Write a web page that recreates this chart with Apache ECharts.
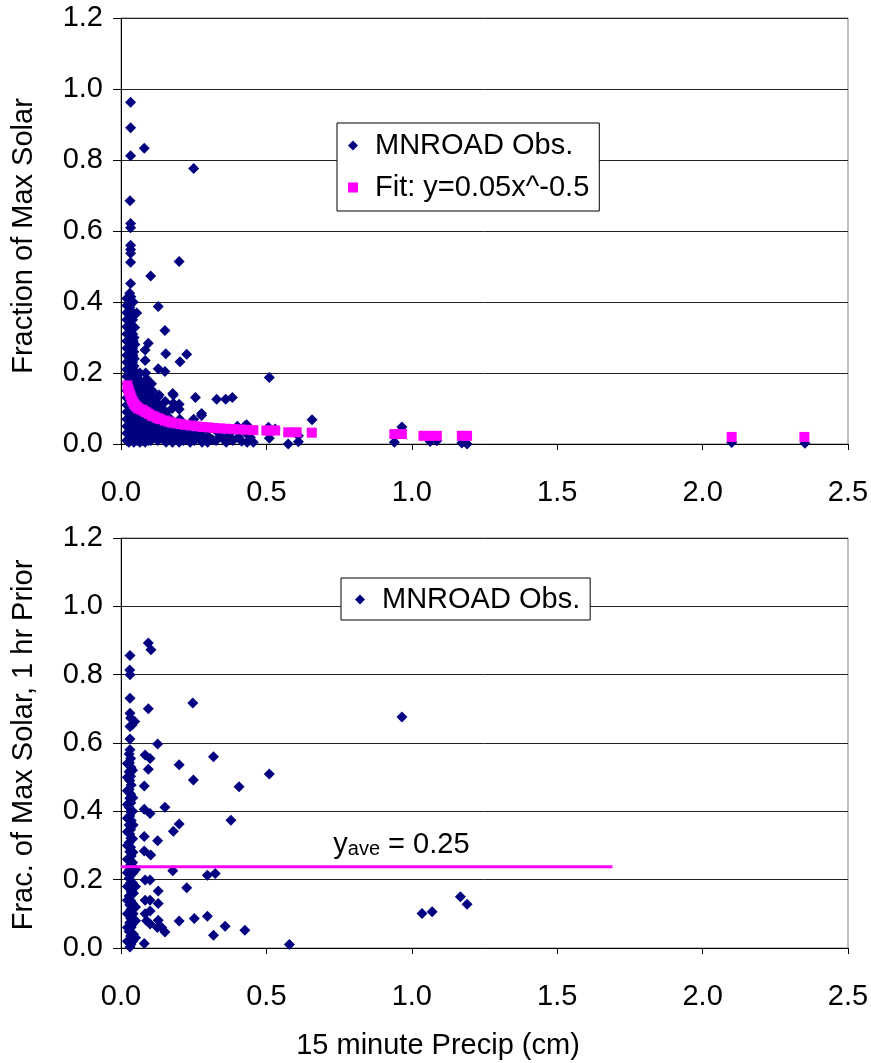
<!DOCTYPE html>
<html>
<head>
<meta charset="utf-8">
<script src="https://cdn.jsdelivr.net/npm/echarts@6/dist/echarts.min.js"></script>
<style>
html,body{margin:0;padding:0;background:#fff;}
#c{width:871px;height:1063px;}
</style>
</head>
<body>
<div id="c"></div>
<script>
// ---------- DATA ----------
const xTicks = [0, 0.5, 1.0, 1.5, 2.0, 2.5];
const yTicks = [0, 0.2, 0.4, 0.6, 0.8, 1.0, 1.2];
const legendTop = ['MNROAD Obs.', 'Fit: y=0.05x^-0.5'];
const legendBottom = ['MNROAD Obs.'];
const xTitle = '15 minute Precip (cm)';
const yTitleTop = 'Fraction of Max Solar';
const yTitleBottom = 'Frac. of Max Solar, 1 hr Prior';
const aveLabel = ['y', 'ave', ' = 0.25'];

// Top panel: observations [precip cm, fraction]
const obsTop = [
 [0.033,0.963],[0.033,0.891],[0.033,0.812],[0.031,0.685],[0.033,0.621],[0.033,0.609],[0.033,0.560],[0.033,0.548],[0.033,0.537],[0.033,0.512],[0.033,0.452],
 [0.030,0.425],[0.034,0.415],[0.029,0.405],[0.033,0.395],[0.030,0.385],[0.035,0.375],[0.028,0.365],[0.033,0.355],[0.030,0.345],[0.035,0.335],[0.028,0.325],
 [0.033,0.315],[0.030,0.305],[0.036,0.295],[0.027,0.285],[0.033,0.275],[0.030,0.265],[0.036,0.255],[0.027,0.245],[0.033,0.235],[0.030,0.225],[0.036,0.215],
 [0.027,0.205],[0.033,0.195],[0.030,0.185],[0.036,0.175],[0.027,0.165],[0.033,0.155],[0.030,0.145],[0.036,0.135],[0.027,0.125],[0.033,0.115],[0.030,0.105],
 [0.036,0.095],[0.027,0.085],[0.033,0.075],[0.030,0.065],[0.036,0.055],[0.027,0.045],[0.033,0.035],[0.030,0.025],[0.036,0.015],[0.027,0.005],
 [0.020,0.410],[0.020,0.390],[0.020,0.370],[0.020,0.350],[0.020,0.330],[0.020,0.310],[0.020,0.290],[0.020,0.270],[0.020,0.250],[0.020,0.230],[0.020,0.210],
 [0.020,0.190],[0.020,0.170],[0.020,0.150],[0.020,0.130],[0.020,0.110],[0.020,0.090],[0.020,0.070],[0.020,0.050],[0.020,0.030],[0.020,0.010],
 [0.042,0.400],[0.040,0.350],[0.041,0.330],[0.040,0.310],[0.042,0.290],[0.040,0.270],[0.041,0.250],[0.040,0.230],[0.042,0.210],
 [0.054,0.369],[0.047,0.328],[0.045,0.300],[0.048,0.280],[0.044,0.260],[0.046,0.240],[0.045,0.220],[0.048,0.200],[0.044,0.185],[0.047,0.170],[0.045,0.155],
 [0.048,0.140],[0.044,0.125],[0.047,0.110],[0.045,0.095],[0.048,0.080],[0.044,0.065],[0.047,0.050],[0.045,0.035],[0.048,0.020],[0.044,0.005],
 [0.055,0.190],[0.055,0.170],[0.055,0.150],[0.055,0.130],[0.055,0.110],[0.055,0.090],[0.055,0.070],[0.055,0.050],[0.055,0.030],[0.055,0.010],
 [0.065,0.200],[0.062,0.180],[0.066,0.160],[0.063,0.140],[0.066,0.120],[0.062,0.100],[0.065,0.080],[0.063,0.060],[0.066,0.040],[0.062,0.020],[0.065,0.005],
 [0.075,0.170],[0.075,0.150],[0.075,0.130],[0.075,0.110],[0.075,0.090],[0.075,0.070],[0.075,0.050],[0.075,0.030],[0.075,0.010],
 [0.080,0.833],[0.094,0.284],[0.083,0.265],[0.083,0.235],[0.085,0.200],[0.088,0.184],[0.083,0.160],[0.087,0.140],[0.084,0.120],[0.088,0.100],[0.083,0.080],
 [0.087,0.060],[0.084,0.040],[0.088,0.020],[0.083,0.005],
 [0.095,0.150],[0.095,0.130],[0.095,0.110],[0.095,0.090],[0.095,0.070],[0.095,0.050],[0.095,0.030],[0.095,0.010],
 [0.102,0.473],[0.105,0.170],[0.108,0.150],[0.104,0.130],[0.107,0.110],[0.103,0.090],[0.108,0.070],[0.104,0.050],[0.107,0.030],[0.103,0.010],
 [0.117,0.120],[0.117,0.100],[0.117,0.080],[0.117,0.060],[0.117,0.040],[0.117,0.020],
 [0.128,0.387],[0.128,0.212],[0.131,0.138],[0.128,0.133],[0.132,0.110],[0.127,0.090],[0.131,0.070],[0.128,0.050],[0.132,0.030],[0.127,0.010],
 [0.140,0.100],[0.140,0.080],[0.140,0.060],[0.140,0.040],[0.140,0.020],
 [0.151,0.320],[0.154,0.254],[0.151,0.204],[0.152,0.120],[0.155,0.090],[0.150,0.060],[0.154,0.040],[0.151,0.020],[0.155,0.005],
 [0.165,0.075],[0.165,0.055],[0.165,0.035],[0.165,0.015],
 [0.178,0.142],[0.180,0.138],[0.180,0.115],[0.176,0.100],[0.182,0.060],[0.178,0.040],[0.181,0.020],[0.177,0.005],
 [0.190,0.055],[0.190,0.035],[0.190,0.015],
 [0.200,0.514],[0.203,0.232],[0.200,0.112],[0.200,0.098],[0.202,0.070],[0.198,0.045],[0.203,0.020],[0.200,0.005],
 [0.215,0.030],[0.215,0.010],
 [0.226,0.253],[0.228,0.040],[0.224,0.015],[0.240,0.025],[0.238,0.005],
 [0.250,0.776],[0.250,0.070],[0.248,0.035],[0.252,0.010],[0.256,0.131],[0.262,0.020],
 [0.277,0.086],[0.277,0.080],[0.275,0.030],[0.279,0.005],[0.290,0.015],
 [0.300,0.040],[0.302,0.020],[0.298,0.005],[0.315,0.012],
 [0.329,0.126],[0.330,0.035],[0.327,0.010],[0.345,0.020],
 [0.360,0.126],[0.358,0.040],[0.362,0.005],[0.370,0.022],
 [0.383,0.131],[0.381,0.035],[0.385,0.010],
 [0.400,0.050],[0.404,0.020],[0.415,0.008],
 [0.426,0.051],[0.432,0.054],[0.430,0.030],[0.434,0.005],[0.445,0.018],[0.455,0.005],
 [0.510,0.187],[0.507,0.047],[0.510,0.016],[0.530,0.042],
 [0.575,0.000],[0.610,0.006],[0.610,0.023],[0.657,0.068],
 [0.940,0.005],[0.966,0.048],[1.063,0.007],[1.086,0.009],[1.172,0.003],[1.190,0.000],
 [2.100,0.004],[2.352,0.002]
];

// Top panel: fitted values [precip cm, fraction]
const fitTop = [
 [0.022,0.165],[0.025,0.155],[0.028,0.147],[0.032,0.138],[0.036,0.128],[0.040,0.120],[0.045,0.113],[0.050,0.108],[0.055,0.104],[0.060,0.100],
 [0.070,0.097],[0.077,0.094],[0.085,0.090],[0.095,0.085],[0.105,0.080],[0.115,0.077],[0.125,0.073],[0.135,0.070],[0.150,0.066],[0.163,0.063],
 [0.175,0.060],[0.190,0.058],[0.205,0.056],[0.220,0.054],[0.240,0.052],[0.260,0.050],[0.280,0.048],[0.300,0.047],[0.320,0.045],[0.340,0.044],
 [0.360,0.043],[0.386,0.042],[0.410,0.041],[0.432,0.040],[0.455,0.039],[0.500,0.038],[0.512,0.038],[0.530,0.038],[0.575,0.033],[0.604,0.033],
 [0.656,0.032],[0.940,0.028],[0.966,0.028],[1.040,0.023],[1.063,0.023],[1.086,0.023],[1.172,0.023],[1.190,0.023],[2.100,0.020],[2.350,0.020]
];

// Bottom panel: observations [precip cm, fraction 1 hr prior]
const obsBottom = [
 [0.094,0.893],[0.103,0.873],[0.031,0.856],[0.030,0.814],[0.031,0.800],[0.031,0.731],[0.247,0.717],[0.094,0.700],
 [0.031,0.687],[0.033,0.673],[0.047,0.663],[0.031,0.648],[0.038,0.653],[0.031,0.612],[0.126,0.597],[0.031,0.580],
 [0.083,0.565],[0.100,0.555],[0.318,0.560],[0.200,0.536],[0.094,0.523],[0.510,0.509],[0.249,0.492],[0.080,0.474],[0.406,0.472],
 [0.151,0.412],[0.080,0.406],[0.100,0.394],[0.378,0.374],[0.200,0.363],[0.180,0.342],[0.080,0.326],[0.126,0.314],[0.080,0.284],[0.102,0.272],
 [0.178,0.226],[0.297,0.213],[0.324,0.218],[0.083,0.199],[0.100,0.199],[0.226,0.176],[0.128,0.167],[0.083,0.140],[0.100,0.140],[0.128,0.130],
 [0.100,0.108],[0.083,0.100],[0.128,0.081],[0.200,0.079],[0.252,0.086],[0.297,0.093],[0.151,0.047],[0.140,0.060],[0.125,0.060],[0.088,0.080],[0.100,0.070],
 [0.358,0.064],[0.318,0.037],[0.426,0.052],[0.080,0.013],[0.579,0.010],
 [0.966,0.676],[1.035,0.101],[1.070,0.106],[1.167,0.150],[1.190,0.128],
 [0.028,0.568],[0.033,0.555],[0.029,0.542],[0.034,0.529],[0.028,0.516],[0.033,0.503],[0.030,0.490],[0.035,0.477],[0.028,0.464],[0.033,0.451],
 [0.030,0.438],[0.034,0.425],[0.028,0.412],[0.033,0.399],[0.030,0.386],[0.035,0.373],[0.028,0.360],[0.033,0.347],[0.030,0.334],[0.034,0.321],
 [0.028,0.308],[0.033,0.295],[0.030,0.282],[0.035,0.269],[0.028,0.256],[0.033,0.243],[0.030,0.230],[0.034,0.217],[0.028,0.204],[0.033,0.191],
 [0.030,0.178],[0.035,0.165],[0.028,0.152],[0.033,0.139],[0.030,0.126],[0.034,0.113],[0.028,0.100],[0.033,0.087],[0.030,0.074],[0.035,0.061],
 [0.028,0.048],[0.033,0.035],[0.030,0.022],[0.034,0.010],[0.031,0.003],
 [0.022,0.540],[0.022,0.500],[0.022,0.460],[0.022,0.420],[0.022,0.380],[0.022,0.340],[0.022,0.300],[0.022,0.260],[0.022,0.220],[0.022,0.180],
 [0.022,0.140],[0.022,0.100],[0.022,0.060],[0.022,0.020],
 [0.040,0.520],[0.041,0.440],[0.040,0.400],[0.042,0.360],[0.040,0.320],[0.041,0.280],[0.040,0.250],[0.042,0.220],[0.040,0.190],[0.043,0.160],
 [0.040,0.130],[0.042,0.100],[0.040,0.070],[0.043,0.040],[0.040,0.020],
 [0.050,0.230],[0.050,0.180],[0.050,0.120],[0.050,0.080],[0.050,0.030]
];

// Bottom panel: average line and its label anchor (top-left of text)
const aveLine = [[0, 0.238], [1.69, 0.238]];
const aveLabelAnchor = [0.73, 0.347];

// ---------- CHART ----------
const FONT = '"Liberation Sans", Arial, sans-serif';
const FS = 29;
const chart = echarts.init(document.getElementById('c'), null, {renderer: 'canvas'});

function xAxisCfg(gi) {
  return {
    type: 'value', gridIndex: gi, min: xTicks[0], max: xTicks[xTicks.length - 1], interval: xTicks[1] - xTicks[0],
    axisLine: {show: true, onZero: false, lineStyle: {color: '#000', width: 1}},
    axisTick: {show: true, inside: false, length: 6, lineStyle: {color: '#000'}},
    axisLabel: {color: '#000', fontFamily: FONT, fontSize: FS, margin: 34, formatter: v => v.toFixed(1)},
    splitLine: {show: false}
  };
}
function yAxisCfg(gi) {
  return {
    type: 'value', gridIndex: gi, min: yTicks[0], max: yTicks[yTicks.length - 1], interval: yTicks[1] - yTicks[0],
    axisLine: {show: true, onZero: false, lineStyle: {color: '#000', width: 1}},
    axisTick: {show: true, inside: false, length: 8, lineStyle: {color: '#000'}},
    axisLabel: {color: '#000', fontFamily: FONT, fontSize: FS, margin: 18, formatter: v => v.toFixed(1)},
    splitLine: {show: true, lineStyle: {color: '#222', width: 1}}
  };
}

const legendCommon = {
  orient: 'vertical', backgroundColor: '#fff', borderColor: '#000', borderWidth: 1,
  itemWidth: 10, itemHeight: 10, itemGap: 13,
  textStyle: {color: '#000', fontFamily: FONT, fontSize: FS, padding: [0, 0, 0, 12]},
  selectedMode: false
};

const option = {
  animation: false,
  backgroundColor: '#fff',
  grid: [
    {left: 121, right: 23, top: 18, height: 426, show: true, borderColor: '#808080', borderWidth: 1, backgroundColor: 'transparent', outerBoundsMode: 'none'},
    {left: 121, right: 23, top: 538, height: 410, show: true, borderColor: '#808080', borderWidth: 1, backgroundColor: 'transparent', outerBoundsMode: 'none'}
  ],
  xAxis: [xAxisCfg(0), xAxisCfg(1)],
  yAxis: [yAxisCfg(0), yAxisCfg(1)],
  legend: [
    Object.assign({}, legendCommon, {
      left: 337, top: 123, padding: [8, 10, 9, 11],
      data: [{name: 'obsTop', icon: 'diamond'}, {name: 'fitTop', icon: 'rect'}],
      formatter: n => n === 'obsTop' ? legendTop[0] : legendTop[1]
    }),
    Object.assign({}, legendCommon, {
      left: 341, top: 578, padding: [7, 10, 6, 14],
      data: [{name: 'obsBottom', icon: 'diamond'}],
      formatter: () => legendBottom[0]
    })
  ],
  series: [
    {name: 'obsTop', type: 'scatter', xAxisIndex: 0, yAxisIndex: 0, symbol: 'diamond', symbolSize: 11,
     itemStyle: {color: '#000080', opacity: 1}, data: obsTop, z: 3},
    {name: 'fitTop', type: 'scatter', xAxisIndex: 0, yAxisIndex: 0, symbol: 'rect', symbolSize: 10,
     itemStyle: {color: '#FF00FF', opacity: 1}, data: fitTop, z: 4},
    {name: 'obsBottom', type: 'scatter', xAxisIndex: 1, yAxisIndex: 1, symbol: 'diamond', symbolSize: 11,
     itemStyle: {color: '#000080', opacity: 1}, data: obsBottom, z: 3},
    {name: 'ave', type: 'line', xAxisIndex: 1, yAxisIndex: 1, symbol: 'none', data: aveLine,
     lineStyle: {color: '#FF00FF', width: 3}, z: 4}
  ],
  graphic: [
    {id: 'xt', type: 'text', x: 438, y: 1046,
     style: {text: xTitle, font: FS + 'px ' + FONT, fill: '#000', textAlign: 'center', textVerticalAlign: 'middle'}},
    {id: 'yt1', type: 'text', x: 24, y: 236, rotation: Math.PI / 2,
     style: {text: yTitleTop, font: FS + 'px ' + FONT, fill: '#000', textAlign: 'center', textVerticalAlign: 'middle'}},
    {id: 'yt2', type: 'text', x: 24, y: 745, rotation: Math.PI / 2,
     style: {text: yTitleBottom, font: FS + 'px ' + FONT, fill: '#000', textAlign: 'center', textVerticalAlign: 'middle'}}
  ]
};
chart.setOption(option);

// place the y_ave label through the bottom axes' scales
const p = chart.convertToPixel({xAxisIndex: 1, yAxisIndex: 1}, aveLabelAnchor);
chart.setOption({graphic: [{
  id: 'ave', type: 'text', x: p[0], y: p[1], z: 10,
  style: {
    text: '{a|' + aveLabel[0] + '}{b|' + aveLabel[1] + '}{a|' + aveLabel[2] + '}',
    textAlign: 'left', textVerticalAlign: 'top',
    rich: {
      a: {fontFamily: FONT, fontSize: FS, fill: '#000', verticalAlign: 'bottom', lineHeight: 30},
      b: {fontFamily: FONT, fontSize: 20, fill: '#000', verticalAlign: 'bottom', lineHeight: 14}
    }
  }
}]});
</script>
</body>
</html>
